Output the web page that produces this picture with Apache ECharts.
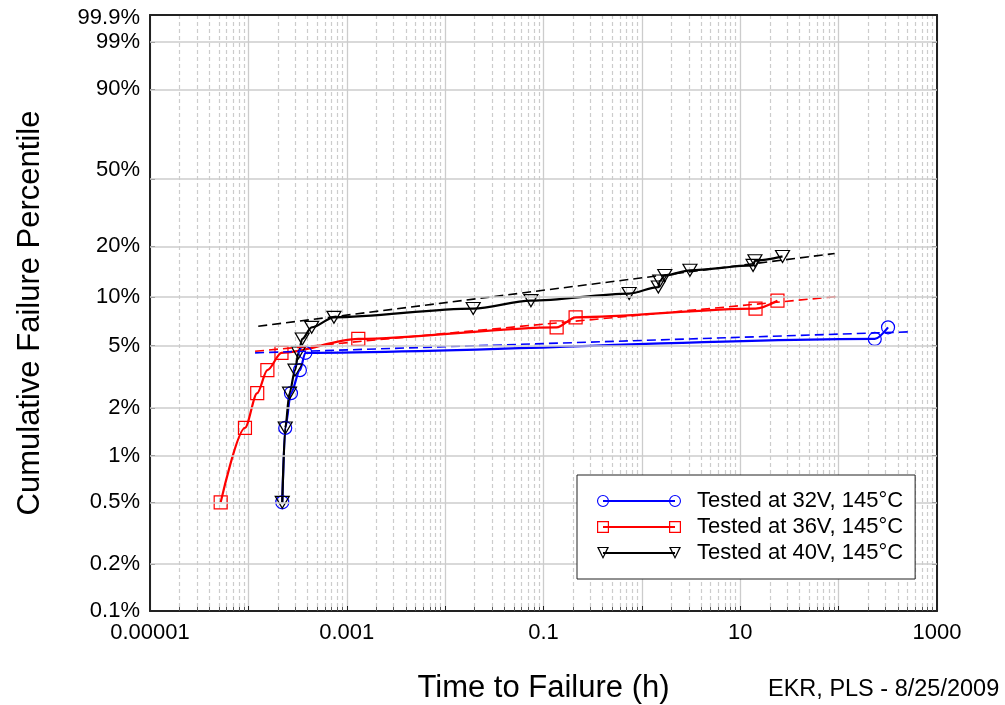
<!DOCTYPE html>
<html><head><meta charset="utf-8">
<script src="https://cdn.jsdelivr.net/npm/echarts@6/dist/echarts.min.js"></script>
<style>html,body{margin:0;padding:0;background:#fff}#c{width:1005px;height:705px}</style>
</head><body><div id="c"></div>
<script>
// ---- data (time in hours, cumulative failure in percent) ----
const seriesNames = ['Tested at 32V, 145°C', 'Tested at 36V, 145°C', 'Tested at 40V, 145°C'];

const v32Times   = [2.21e-4, 2.37e-4, 2.71e-4, 3.34e-4, 3.80e-4, 233, 318];
const v32Percent = [0.5, 1.5, 2.5, 3.5, 4.5, 5.5, 6.5];

const v36Times   = [5.23e-5, 9.23e-5, 1.23e-4, 1.56e-4, 2.17e-4, 1.31e-3, 0.136, 0.212, 14.3, 23.9];
const v36Percent = [0.5, 1.5, 2.5, 3.5, 4.5, 5.5, 6.5, 7.5, 8.5, 9.5];

const v40Times   = [2.21e-4, 2.37e-4, 2.62e-4, 2.98e-4, 3.23e-4, 3.53e-4, 4.40e-4, 7.41e-4, 0.0193, 0.0745,
                    0.743, 1.47, 1.52, 1.71, 3.08, 13.5, 14.1, 26.9];
const v40Percent = [0.5, 1.5, 2.5, 3.5, 4.5, 5.5, 6.5, 7.5, 8.5, 9.5,
                    10.5, 11.5, 12.5, 13.5, 14.5, 15.5, 16.5, 17.5];

// Weibull fit lines (end points)
const fit32Times = [1.17e-4, 568];  const fit32Percent = [4.5, 6.1];
const fit36Times = [1.17e-4, 95];   const fit36Percent = [4.6, 10.06];
const fit40Times = [1.26e-4, 91];   const fit40Percent = [6.6, 18.2];

// ---- axis ticks ----
const xDecades = [1e-5, 1e-4, 1e-3, 1e-2, 1e-1, 1, 10, 100, 1000];
const xLabelValues = [1e-5, 1e-3, 0.1, 10, 1000];
const xLabelTexts = ['0.00001', '0.001', '0.1', '10', '1000'];
const xMinorMultipliers = [2, 3, 4, 5, 6, 7, 8, 9];
const yLabelPercents = [99.9, 99, 90, 50, 20, 10, 5, 2, 1, 0.5, 0.2, 0.1];
const yGridPercents = [99, 90, 45.5, 20, 10, 5, 2, 1, 0.5, 0.2]; // reference draws its "50%" line slightly low
const yMinPercent = 0.1, yMaxPercent = 99.9;

// ---- helpers ----
const W = p => Math.log(-Math.log(1 - p / 100));   // Weibull probability scale
const pairs = (ts, ps) => ts.map((t, i) => [t, W(ps[i])]);
const xMinor = [];
xDecades.slice(0, -1).forEach(d => xMinorMultipliers.forEach(k => xMinor.push(k * d)));

const FONT = '"Liberation Sans", Arial, sans-serif';
const blue = '#0000ff', red = '#ff0000', black = '#000000';

// legend icons: marker - line - marker
const circIcon = 'path://M0,6 A6,6 0 1,0 12,6 A6,6 0 1,0 0,6 Z M1.1,6 A4.9,4.9 0 1,1 10.9,6 A4.9,4.9 0 1,1 1.1,6 Z ' +
  'M72,6 A6,6 0 1,0 84,6 A6,6 0 1,0 72,6 Z M73.1,6 A4.9,4.9 0 1,1 82.9,6 A4.9,4.9 0 1,1 73.1,6 Z ' +
  'M6,5 L6,7 L78,7 L78,5 Z';
const sqIcon = 'path://M0,0 L0,12 L12,12 L12,0 Z M1.2,1.2 L10.8,1.2 L10.8,10.8 L1.2,10.8 Z ' +
  'M72,0 L72,12 L84,12 L84,0 Z M73.2,1.2 L82.8,1.2 L82.8,10.8 L73.2,10.8 Z ' +
  'M6,5 L6,7 L78,7 L78,5 Z';
const triIcon = 'path://M0,0 L6,12 L12,0 Z M2,1 L10,1 L6,9.6 Z ' +
  'M72,0 L78,12 L84,0 Z M74,1 L82,1 L78,9.6 Z ' +
  'M6,5 L6,7 L78,7 L78,5 Z';

const gridColor = '#cccccc';
const axisDark = '#222222';

const chart = echarts.init(document.getElementById('c'), null, {renderer: 'canvas'});

function dataSeries(name, ts, ps, color, symbol, rotate, size) {
  return {
    name, type: 'line', data: pairs(ts, ps), xAxisIndex: 0, yAxisIndex: 0,
    smooth: 0.3, smoothMonotone: 'x',
    symbol, symbolSize: size, symbolRotate: rotate,
    lineStyle: {color, width: 2.2},
    itemStyle: {color: 'rgba(0,0,0,0)', borderColor: color, borderWidth: 1.2},
    emphasis: {disabled: true}, z: 3
  };
}
function fitSeries(name, ts, ps, color) {
  return {
    name, type: 'line', data: pairs(ts, ps), xAxisIndex: 0, yAxisIndex: 0,
    symbol: 'none', lineStyle: {color, width: 1.6, type: [9, 5]},
    emphasis: {disabled: true}, z: 4
  };
}

const option = {
  animation: false,
  backgroundColor: '#fff',
  textStyle: {fontFamily: FONT},
  grid: {left: 150, right: 68, top: 15, bottom: 94, containLabel: false, outerBoundsMode: 'none'},
  title: {
    text: 'EKR, PLS - 8/25/2009', left: 768, top: 678, padding: 0,
    textStyle: {fontSize: 23.5, fontWeight: 'normal', color: '#000', fontFamily: FONT}
  },
  legend: {
    orient: 'vertical', left: 577, top: 475, z: 20,
    padding: [15, 12, 15, 20], itemGap: 4,
    itemWidth: 84, itemHeight: 12,
    backgroundColor: '#fff', borderColor: '#222', borderWidth: 1,
    selectedMode: false,
    textStyle: {fontSize: 22, color: '#000', fontFamily: FONT, padding: [0, 0, 0, 11]},
    data: [
      {name: seriesNames[0], icon: circIcon, itemStyle: {color: blue, borderWidth: 0}},
      {name: seriesNames[1], icon: sqIcon, itemStyle: {color: red, borderWidth: 0}},
      {name: seriesNames[2], icon: triIcon, itemStyle: {color: black, borderWidth: 0}}
    ]
  },
  xAxis: [
    {
      type: 'log', logBase: 10, min: 1e-5, max: 1000, position: 'bottom',
      name: 'Time to Failure (h)', nameLocation: 'middle', nameGap: 62,
      nameTextStyle: {fontSize: 31, color: '#000', fontFamily: FONT},
      axisLine: {show: true, onZero: false, lineStyle: {color: axisDark, width: 2}},
      axisTick: {show: true, inside: true, length: 5, customValues: xDecades, lineStyle: {color: axisDark}},
      axisLabel: {
        customValues: xLabelValues, fontSize: 22, color: '#000', margin: 11, fontFamily: FONT,
        formatter: v => {
          let best = 0;
          xLabelValues.forEach((lv, i) => { if (Math.abs(Math.log10(lv) - Math.log10(v)) < Math.abs(Math.log10(xLabelValues[best]) - Math.log10(v))) best = i; });
          return xLabelTexts[best];
        }
      },
      splitLine: {show: true, lineStyle: {color: gridColor, width: 1.3, type: 'solid'}}
    },
    {
      type: 'log', logBase: 10, min: 1e-5, max: 1000, position: 'bottom',
      axisLine: {show: false, onZero: false},
      axisTick: {show: true, inside: true, length: 4, customValues: xMinor, lineStyle: {color: '#555'}},
      axisLabel: {show: false},
      splitLine: {show: true, lineStyle: {color: gridColor, width: 1.2, type: [4, 3]}}
    },
    {
      type: 'log', logBase: 10, min: 1e-5, max: 1000, position: 'top',
      axisLine: {show: true, onZero: false, lineStyle: {color: axisDark, width: 2}},
      axisTick: {show: false},
      axisLabel: {show: false},
      splitLine: {show: false}
    }
  ],
  yAxis: [
    {
      type: 'value', min: W(yMinPercent), max: W(yMaxPercent), position: 'left',
      name: 'Cumulative Failure Percentile', nameLocation: 'middle', nameRotate: 90, nameGap: 104,
      nameTextStyle: {fontSize: 31, color: '#000', fontFamily: FONT},
      axisLine: {show: true, onZero: false, lineStyle: {color: axisDark, width: 2}},
      axisTick: {show: true, inside: true, length: 5, customValues: yGridPercents.map(W), lineStyle: {color: axisDark}},
      axisLabel: {
        customValues: yLabelPercents.map(W), fontSize: 22, color: '#000', margin: 10, fontFamily: FONT,
        formatter: v => {
          let best = 0;
          yLabelPercents.forEach((p, i) => { if (Math.abs(W(p) - v) < Math.abs(W(yLabelPercents[best]) - v)) best = i; });
          const s = yLabelPercents[best] + '%';
          return best === 0 ? '{t|' + s + '}' : s;
        },
        rich: {t: {fontSize: 22, color: '#000', fontFamily: FONT, padding: [6, 0, 0, 0]}}
      },
      splitLine: {show: false}
    },
    {
      type: 'value', min: W(yMinPercent), max: W(yMaxPercent), position: 'right',
      axisLine: {show: true, onZero: false, lineStyle: {color: axisDark, width: 2}},
      axisTick: {show: true, inside: true, length: 5, customValues: yGridPercents.map(W), lineStyle: {color: axisDark}},
      axisLabel: {show: false},
      splitLine: {show: false}
    }
  ],
  series: [
    {
      name: 'horizontal grid', type: 'line', data: [], xAxisIndex: 0, yAxisIndex: 0, silent: true, z: 1,
      markLine: {
        silent: true, symbol: ['none', 'none'], label: {show: false},
        lineStyle: {color: gridColor, width: 1.5, type: 'solid'},
        emphasis: {disabled: true},
        data: yGridPercents.map(p => ({yAxis: W(p)}))
      }
    },
    dataSeries(seriesNames[0], v32Times, v32Percent, blue, 'circle', 0, 13),
    dataSeries(seriesNames[1], v36Times, v36Percent, red, 'rect', 0, 13),
    fitSeries('fit32', fit32Times, fit32Percent, blue),
    fitSeries('fit36', fit36Times, fit36Percent, red),
    fitSeries('fit40', fit40Times, fit40Percent, black),
    dataSeries(seriesNames[2], v40Times, v40Percent, black, 'triangle', 180, [14, 12])
  ]
};
chart.setOption(option);
</script>
</body></html>
